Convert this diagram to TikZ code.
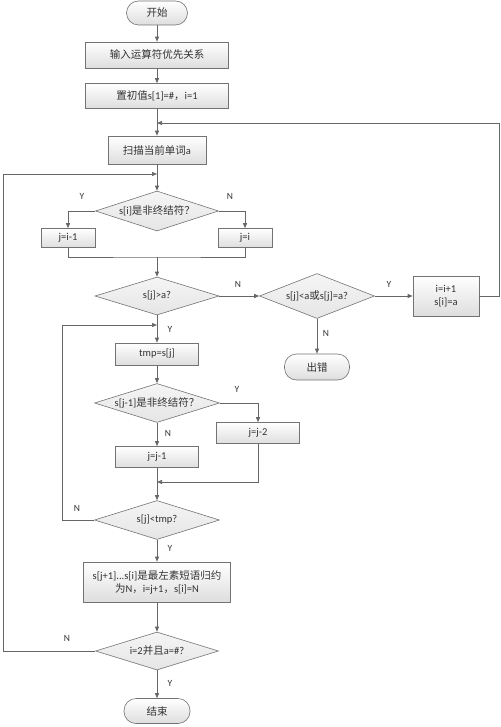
\documentclass[tikz,border=0pt]{standalone}
\usepackage{fontspec}
\setmainfont{Carlito}
\newfontfamily\cjkf{Noto Sans CJK SC}
\newcommand{\zhs}[1]{{\cjkf #1}}
\usetikzlibrary{shapes.geometric,arrows.meta}
\tikzset{
  base/.style={draw=black!55, line width=0.6pt, top color=white, bottom color=black!13, inner sep=0pt, align=center},
  procbox/.style={base, rectangle},
  term/.style={base, rectangle, rounded corners=12pt},
  dia/.style={base, diamond, top color=black!4, bottom color=black!10},
  conn/.style={draw=black!60, line width=0.7pt},
  arr/.style={conn, -{Triangle[length=5pt,width=4pt]}},
  yn/.style={font=\fontsize{9.5}{11}\selectfont, text=black!80},
  every node/.style={font=\fontsize{10.5}{13}\selectfont, text=black!80}
}
\begin{document}
\begin{tikzpicture}[x=1pt,y=-1pt]
\useasboundingbox (0,0) rectangle (500,727);
% nodes
\node[term, minimum width=61pt, minimum height=24pt] (start) at (157,13) {\zhs{开始}};
\node[procbox, minimum width=143pt, minimum height=26pt] (b1) at (157,55) {\zhs{输入运算符优先关系}};
\node[procbox, minimum width=143pt, minimum height=25pt] (b2) at (157,96) {\zhs{置初值}s[1]=\#\zhs{，}i=1};
\node[procbox, minimum width=98pt, minimum height=28pt] (scan) at (157,150) {\zhs{扫描当前单词}a};
\node[dia, minimum width=123pt, minimum height=40pt] (d1) at (157,211) {};
\node at (d1) {s[i]\zhs{是非终结符？}};
\node[procbox, minimum width=54pt, minimum height=19pt] (j1) at (68,238) {j=i-1};
\node[procbox, minimum width=54pt, minimum height=19pt] (j2) at (245,238) {j=i};
\node[dia, minimum width=124pt, minimum height=38pt] (d2) at (157,296) {};
\node at (d2) {s[j]>a?};
\node[dia, minimum width=115pt, minimum height=45pt] (d3) at (317,296) {};
\node at (d3) {s[j]<a\zhs{或}s[j]=a?};
\node[procbox, minimum width=66pt, minimum height=40pt] (inc) at (446,296) {i=i+1\\s[i]=a};
\node[term, minimum width=65pt, minimum height=26pt] (err) at (317,367) {\zhs{出错}};
\node[procbox, minimum width=83pt, minimum height=22pt] (tmp) at (157,354) {tmp=s[j]};
\node[dia, minimum width=125pt, minimum height=39pt] (d4) at (157,403) {};
\node at (d4) {s[j-1]\zhs{是非终结符？}};
\node[procbox, minimum width=83pt, minimum height=21pt] (jj2) at (258,433) {j=j-2};
\node[procbox, minimum width=83pt, minimum height=21pt] (jj1) at (157,457) {j=j-1};
\node[dia, minimum width=125pt, minimum height=39pt] (d5) at (157,520) {};
\node at (d5) {s[j]<tmp?};
\node[procbox, minimum width=147pt, minimum height=40pt] (red) at (157,582) {s[j+1]...s[i]\zhs{是最左素短语归约}\\\zhs{为}N\zhs{，}i=j+1\zhs{，}s[i]=N};
\node[dia, minimum width=123pt, minimum height=38pt] (d6) at (157,651) {};
\node at (d6) {i=2\zhs{并且}a=\#?};
\node[term, minimum width=66pt, minimum height=25pt] (stop) at (157,711) {\zhs{结束}};
% coordinates
\coordinate (m1) at (157,123);
\coordinate (m2) at (157,174);
\coordinate (m3) at (157,257);
\coordinate (m4) at (157,325);
\coordinate (m5) at (157,482);
\coordinate (r1) at (499,296);
\coordinate (r2) at (499,123);
\coordinate (l1) at (62,520);
\coordinate (l2) at (62,325);
\coordinate (k1) at (3,651);
\coordinate (k2) at (3,174);
% connectors
\draw[arr] (start) -- (b1);
\draw[arr] (b1) -- (b2);
\draw[arr] (b2) -- (scan);
\draw[arr] (inc.east) -- (r1) -- (r2) -- (m1);
\draw[arr] (scan) -- (d1);
\draw[arr] (d1.west) -| (j1.north);
\draw[arr] (d1.east) -| (j2.north);
\draw[conn] (j1.south) |- (m3) -| (j2.south);
\draw[arr] (m3) -- (d2.north);
\draw[arr] (d2.east) -- (d3.west);
\draw[arr] (d3.east) -- (inc.west);
\draw[arr] (d3.south) -- (err.north);
\draw[arr] (d2.south) -- (tmp.north);
\draw[arr] (tmp) -- (d4);
\draw[arr] (d4.east) -| (jj2.north);
\draw[arr] (d4.south) -- (jj1.north);
\draw[arr] (jj2.south) |- (m5);
\draw[arr] (jj1.south) -- (d5.north);
\draw[arr] (d5.west) -- (l1) -- (l2) -- (m4);
\draw[arr] (d5.south) -- (red.north);
\draw[arr] (red) -- (d6);
\draw[arr] (d6.west) -- (k1) -- (k2) -- (m2);
\draw[arr] (d6.south) -- (stop.north);
% labels
\node[yn] (ly1) at (82,196) {Y};
\node[yn] (ln1) at (230,196) {N};
\node[yn] (ln2) at (238,284) {N};
\node[yn] (ly3) at (389,284) {Y};
\node[yn] (ln3) at (326,333) {N};
\node[yn] (ly2) at (170,329) {Y};
\node[yn] (ly4) at (237,389) {Y};
\node[yn] (ln4) at (168,433) {N};
\node[yn] (ln5) at (77,508) {N};
\node[yn] (ly5) at (170,548) {Y};
\node[yn] (ln6) at (67,638) {N};
\node[yn] (ly6) at (170,683) {Y};
\end{tikzpicture}
\end{document}
